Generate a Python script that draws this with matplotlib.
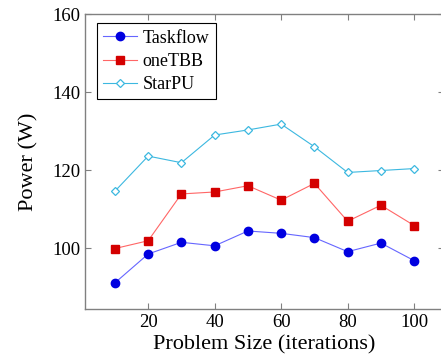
import numpy as np
import matplotlib
matplotlib.use('Agg')
import matplotlib.pyplot as plt

# datos
sizes = [10, 20, 30, 40, 50, 60, 70, 80, 90, 100]
taskflow = [91.1, 98.5, 101.5, 100.6, 104.4, 103.8, 102.7, 99.1, 101.3, 96.8]
onetbb = [99.9, 101.9, 113.9, 114.4, 116.0, 112.3, 116.6, 106.9, 111.0, 105.8]
starpu = [114.6, 123.6, 121.9, 129.0, 130.3, 131.8, 126.0, 119.4, 119.9, 120.4]

plt.rcParams['font.family'] = ['Liberation Serif', 'DejaVu Serif']

fig = plt.figure(figsize=(4.41, 3.61), dpi=100)
ax = fig.add_axes([0.1927, 0.144, 0.8143, 0.817])

ax.plot(sizes, taskflow, color='#6666ff', lw=0.8, marker='o', ms=6,
        mfc='#0000e0', mec='#0000e0', label='Taskflow')
ax.plot(sizes, onetbb, color='#ff6666', lw=0.8, marker='s', ms=6,
        mfc='#d40000', mec='#d40000', label='oneTBB')
ax.plot(sizes, starpu, color='#3cb8e0', lw=0.8, marker='D', ms=4.5,
        mfc='white', mec='#3cb8e0', mew=0.9, label='StarPU')

ax.set_xlim(1, 109)
ax.set_ylim(84.4, 160)
ax.set_xticks([20, 40, 60, 80, 100])
ax.set_yticks([100, 120, 140, 160])
ax.tick_params(direction='in', top=True, right=True, labelsize=13.5,
               color='#808080', length=4, width=0.8)
for s in ax.spines.values():
    s.set_color('#808080')
    s.set_linewidth(1.0)

ax.set_xlabel('Problem Size (iterations)', fontsize=16, labelpad=3)
ax.set_ylabel('Power (W)', fontsize=16, labelpad=10)

leg = ax.legend(loc='upper left', bbox_to_anchor=(0.033, 0.969), fontsize=13,
                fancybox=False, edgecolor='black', framealpha=1,
                handlelength=1.9, handletextpad=0.3, borderpad=0.35,
                labelspacing=0.35, borderaxespad=0)
leg.get_frame().set_linewidth(0.8)

plt.savefig('out.png', dpi=100)
